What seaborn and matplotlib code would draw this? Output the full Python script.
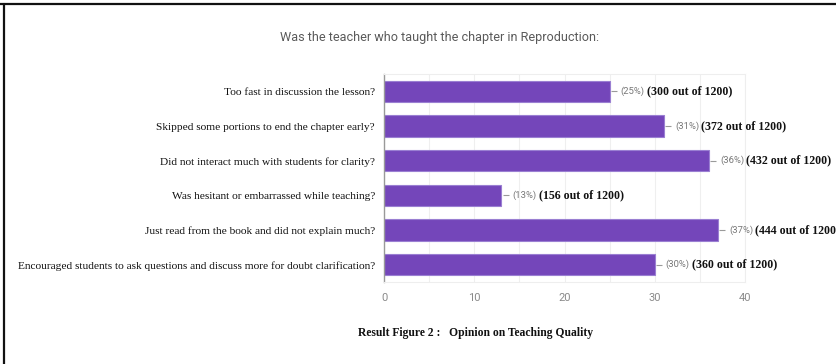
import matplotlib
matplotlib.use("Agg")
import matplotlib.pyplot as plt
from matplotlib.lines import Line2D
from matplotlib.ticker import MultipleLocator
import seaborn as sns
import pandas as pd

# Survey responses (share of 1200 students)
questions = [
    "Too fast in discussion the lesson?",
    "Skipped some portions to end the chapter early?",
    "Did not interact much with students for clarity?",
    "Was hesitant or embarrassed while teaching?",
    "Just read from the book and did not explain much?",
    "Encouraged students to ask questions and discuss more for doubt clarification?",
]
percents = [25, 31, 36, 13, 37, 30]
counts = [300, 372, 432, 156, 444, 360]
total = 1200
xticks = [0, 10, 20, 30, 40]
title = "Was the teacher who taught the chapter in Reproduction:"
caption = "Result Figure 2 :   Opinion on Teaching Quality"

sns.set_theme(style="white")
plt.rcParams["font.family"] = ["Roboto", "DejaVu Sans"]

BAR = "#7446BA"
SERIF = ["Liberation Serif", "DejaVu Serif"]

df = pd.DataFrame({"question": questions, "percent": percents})

fig = plt.figure(figsize=(8.36, 3.64), dpi=100)
ax = fig.add_axes([384 / 836, 1 - 282 / 364, 361 / 836, 208 / 364])

sns.barplot(data=df, x="percent", y="question", orient="h", color=BAR,
            saturation=1, width=0.62, edgecolor="#9a7fd2", linewidth=0.8, ax=ax)

ax.set_xlim(0, 40)
ax.set_ylim(5.5, -0.5)
ax.set_xticks(xticks)
ax.xaxis.set_minor_locator(MultipleLocator(5))
ax.grid(axis="x", which="both", color="#efefef", linewidth=0.8)
ax.set_axisbelow(True)
ax.set_xlabel("")
ax.set_ylabel("")
ax.tick_params(axis="both", which="both", length=0)
ax.tick_params(axis="x", pad=8, labelsize=8, labelcolor="#8a8a8a")
ax.tick_params(axis="y", pad=6.5)
for lbl in ax.get_yticklabels():
    lbl.set_family(SERIF)
    lbl.set_fontsize(8.2)
    lbl.set_color("#111111")

for name, sp in ax.spines.items():
    sp.set_color("#eeeeee")
    sp.set_linewidth(0.8)
ax.spines["left"].set_color("#999999")
ax.spines["left"].set_linewidth(1.0)

# Value labels: leader line, percentage, then the count
for i, (p, c) in enumerate(zip(percents, counts)):
    ax.plot([p + 0.15, p + 0.8], [i, i], color="#9a9a9a", linewidth=0.8,
            solid_capstyle="butt", zorder=3)
    pct = ax.annotate(f"({p}%)", xy=(p, i), xytext=(8, 0),
                      textcoords="offset points", va="center", ha="left",
                      fontsize=6.8, color="#777777")
    ax.annotate(f"({c} out of {total})", xy=(1, 0.5), xycoords=pct,
                xytext=(1.5, 0), textcoords="offset points", va="center",
                ha="left", fontsize=8.6, fontweight="bold", family=SERIF,
                color="#111111", annotation_clip=False)

fig.text(440 / 836, 1 - 38 / 364, title, ha="center", va="center",
         fontsize=9.1, color="#5a5a5a")
fig.text(476 / 836, 1 - 333 / 364, caption, ha="center", va="center",
         fontsize=8.4, fontweight="bold", family=SERIF, color="#111111")

# Frame edges along the top and left of the figure
fig.add_artist(Line2D([0, 1], [1 - 4 / 364, 1 - 4 / 364], color="#111111",
                      linewidth=1.6, transform=fig.transFigure))
fig.add_artist(Line2D([3.5 / 836, 3.5 / 836], [0, 1 - 4 / 364], color="#111111",
                      linewidth=1.6, transform=fig.transFigure))

fig.savefig("out.png", dpi=100, facecolor="white")
